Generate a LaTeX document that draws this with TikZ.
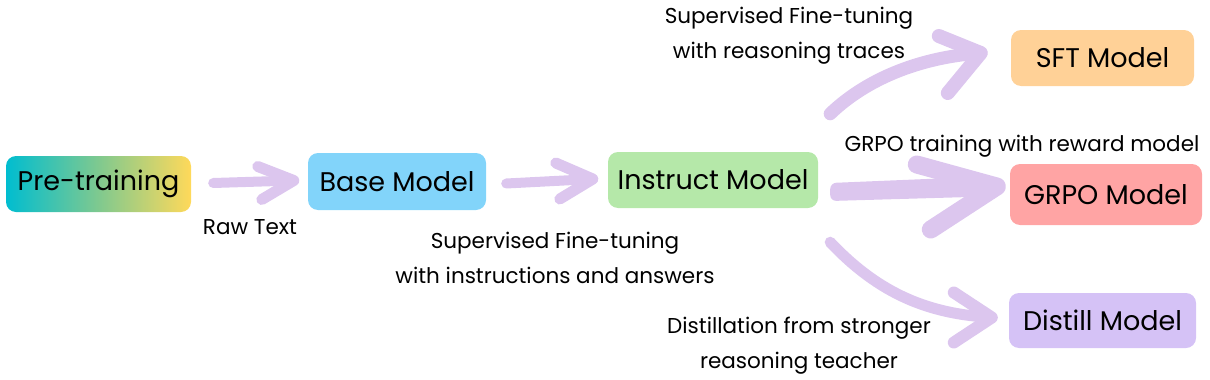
\documentclass[tikz,border=0pt]{standalone}
\usepackage{fontspec}
\setmainfont{Poppins}
\usetikzlibrary{calc}
\definecolor{arr}{HTML}{DCC6EE}
\definecolor{cbase}{HTML}{82D4FA}
\definecolor{cinst}{HTML}{B5E8A9}
\definecolor{csft}{HTML}{FFD197}
\definecolor{cgrpo}{HTML}{FFA4A4}
\definecolor{cdist}{HTML}{D5C2F6}
\definecolor{cteal}{HTML}{00BDD0}
\definecolor{cmid}{HTML}{7FC98F}
\definecolor{cyel}{HTML}{FFD95A}
\begin{document}
\begin{tikzpicture}[x=1pt,y=-1pt,
  box/.style={rounded corners=10pt, inner sep=0pt, font=\fontsize{27}{30}\selectfont},
  lbl/.style={font=\fontsize{21.5}{35}\selectfont, align=center, inner sep=0pt},
  brush/.style={draw=arr, line cap=round, line join=round},
]
\useasboundingbox (0,0) rectangle (1210,380);
% boxes
\node[box, left color=cteal, right color=cyel, middle color=cmid, minimum width=185pt, minimum height=56pt] (pre) at (98.5,184) {Pre-training};
\node[box, fill=cbase, minimum width=178pt, minimum height=57pt] (base) at (397,181.5) {Base Model};
\node[box, fill=cinst, minimum width=210pt, minimum height=56pt] (inst) at (713,180) {Instruct Model};
\node[box, fill=csft, minimum width=183pt, minimum height=56pt] (sft) at (1102.5,58) {SFT Model};
\node[box, fill=cgrpo, minimum width=192pt, minimum height=61pt] (grpo) at (1106,194.5) {GRPO Model};
\node[box, fill=cdist, minimum width=187pt, minimum height=55pt] (dist) at (1102.5,320.5) {Distill Model};
% labels
\node[lbl] (lraw) at (250,227) {Raw Text};
\node[lbl] (lsft1) at (555,258) {Supervised Fine-tuning\\with instructions and answers};
\node[lbl] (lsft2) at (789,36) {Supervised Fine-tuning\\with reasoning traces};
\node[lbl] (lgrpo) at (1022,146) {GRPO training with reward model};
\node[lbl] (ldist) at (799,346) {Distillation from stronger\\reasoning teacher};
% arrow 1
\coordinate (a1s) at ($(pre.east)+(22,-1)$);
\coordinate (a1t) at ($(base.west)+(-14,-1)$);
\draw[brush, line width=10pt] (a1s) -- (a1t);
\draw[brush, line width=11pt] ($(a1t)+(-36,-14)$) -- (a1t) -- ($(a1t)+(-32,19)$);
% arrow 2
\coordinate (a2s) at ($(base.east)+(20,2)$);
\coordinate (a2t) at ($(inst.west)+(-15,-1)$);
\draw[brush, line width=10pt] (a2s) -- (a2t);
\draw[brush, line width=11pt] ($(a2t)+(-37,-16)$) -- (a2t) -- ($(a2t)+(-33,20)$);
% arrow SFT (curved)
\coordinate (a3s) at ($(inst.north east)+(12,-38)$);
\coordinate (a3t) at ($(sft.west)+(-30,-5)$);
\draw[brush, line width=13pt] (a3s) .. controls (860,85) and (910,58) .. (a3t);
\draw[brush, line width=14pt] ($(a3t)+(-42,-17)$) -- (a3t) -- ($(a3t)+(-33,40)$);
% arrow GRPO
\coordinate (a4s) at ($(inst.east)+(14,12)$);
\coordinate (a4t) at ($(grpo.west)+(-13,-8)$);
\fill[arr, rounded corners=6pt] ($(a4s)+(-2,-9)$) -- ($(a4t)+(-10,-10)$) -- ($(a4t)+(-10,10)$) -- ($(a4s)+(-2,9)$) -- cycle;
\draw[brush, line width=18pt] ($(a4t)+(-80,-22)$) -- (a4t) -- ($(a4t)+(-66,43)$);
% arrow Distill (curved)
\coordinate (a5s) at ($(inst.south east)+(12,34)$);
\coordinate (a5t) at ($(dist.west)+(-17,-3)$);
\draw[brush, line width=11pt] (a5s) .. controls (880,295) and (930,314) .. (a5t);
\draw[brush, line width=12pt] ($(a5t)+(-38,-25)$) -- (a5t) -- ($(a5t)+(-38,25)$);
\end{tikzpicture}
\end{document}
